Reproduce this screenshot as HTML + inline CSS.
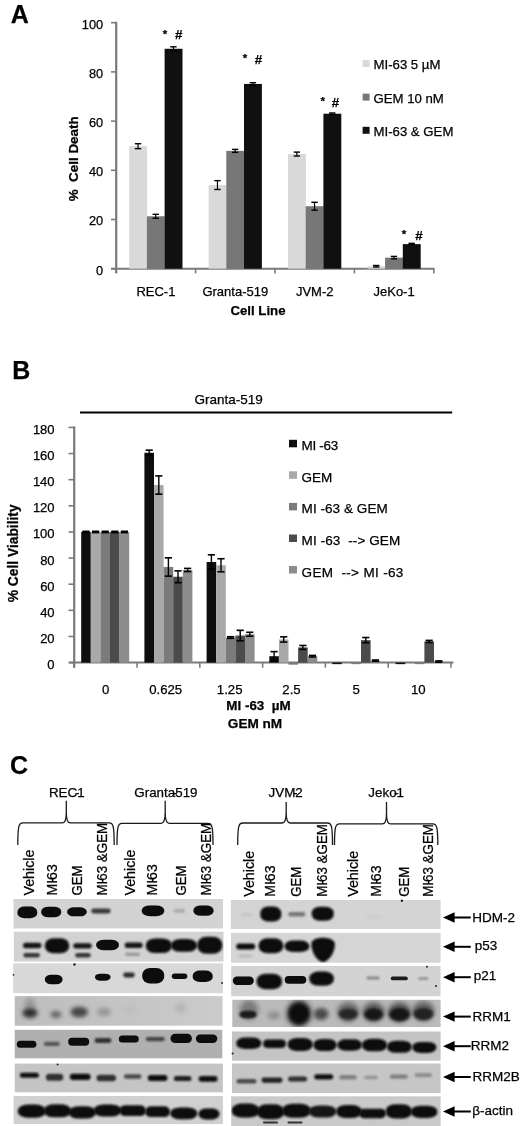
<!DOCTYPE html>
<html><head><meta charset="utf-8"><style>
html,body{margin:0;padding:0;background:#fff;}
svg{display:block;filter:grayscale(1);}
text{font-family:"Liberation Sans",sans-serif;stroke:#000;stroke-width:0.25px;}
</style></head><body>
<svg width="520" height="1126" viewBox="0 0 520 1126">
<text x="10.8" y="23.2" font-size="25" font-weight="700" >A</text>
<line x1="116.20" y1="21.70" x2="116.20" y2="273.00" stroke="#7a7a7a" stroke-width="2.2"/>
<line x1="111.00" y1="268.70" x2="116.20" y2="268.70" stroke="#7a7a7a" stroke-width="1.6"/>
<text x="103.2" y="274.59999999999997" font-size="12.8" text-anchor="end" >0</text>
<line x1="111.00" y1="219.50" x2="116.20" y2="219.50" stroke="#7a7a7a" stroke-width="1.6"/>
<text x="103.2" y="225.4" font-size="12.8" text-anchor="end" >20</text>
<line x1="111.00" y1="170.30" x2="116.20" y2="170.30" stroke="#7a7a7a" stroke-width="1.6"/>
<text x="103.2" y="176.2" font-size="12.8" text-anchor="end" >40</text>
<line x1="111.00" y1="121.10" x2="116.20" y2="121.10" stroke="#7a7a7a" stroke-width="1.6"/>
<text x="103.2" y="127.0" font-size="12.8" text-anchor="end" >60</text>
<line x1="111.00" y1="71.90" x2="116.20" y2="71.90" stroke="#7a7a7a" stroke-width="1.6"/>
<text x="103.2" y="77.79999999999998" font-size="12.8" text-anchor="end" >80</text>
<line x1="111.00" y1="22.70" x2="116.20" y2="22.70" stroke="#7a7a7a" stroke-width="1.6"/>
<text x="103.2" y="28.599999999999987" font-size="12.8" text-anchor="end" >100</text>
<line x1="111.00" y1="268.70" x2="434.50" y2="268.70" stroke="#7a7a7a" stroke-width="2"/>
<line x1="116.20" y1="268.70" x2="116.20" y2="273.50" stroke="#7a7a7a" stroke-width="1.6"/>
<line x1="195.60" y1="268.70" x2="195.60" y2="273.50" stroke="#7a7a7a" stroke-width="1.6"/>
<line x1="275.00" y1="268.70" x2="275.00" y2="273.50" stroke="#7a7a7a" stroke-width="1.6"/>
<line x1="354.40" y1="268.70" x2="354.40" y2="273.50" stroke="#7a7a7a" stroke-width="1.6"/>
<line x1="433.80" y1="268.70" x2="433.80" y2="273.50" stroke="#7a7a7a" stroke-width="1.6"/>
<rect x="129.20" y="146.19" width="17.90" height="122.51" fill="#d9d9d9"/>
<rect x="146.90" y="216.30" width="17.90" height="52.40" fill="#777777"/>
<rect x="164.60" y="48.78" width="17.90" height="219.92" fill="#101010"/>
<line x1="138.05" y1="143.73" x2="138.05" y2="148.65" stroke="#000" stroke-width="1.2"/>
<line x1="134.85" y1="143.73" x2="141.25" y2="143.73" stroke="#000" stroke-width="1.4"/>
<line x1="134.85" y1="148.65" x2="141.25" y2="148.65" stroke="#000" stroke-width="1.4"/>
<line x1="155.75" y1="214.33" x2="155.75" y2="218.27" stroke="#000" stroke-width="1.2"/>
<line x1="152.55" y1="214.33" x2="158.95" y2="214.33" stroke="#000" stroke-width="1.4"/>
<line x1="152.55" y1="218.27" x2="158.95" y2="218.27" stroke="#000" stroke-width="1.4"/>
<line x1="173.45" y1="46.81" x2="173.45" y2="50.74" stroke="#000" stroke-width="1.2"/>
<line x1="170.25" y1="46.81" x2="176.65" y2="46.81" stroke="#000" stroke-width="1.4"/>
<line x1="170.25" y1="50.74" x2="176.65" y2="50.74" stroke="#000" stroke-width="1.4"/>
<rect x="208.60" y="185.06" width="17.90" height="83.64" fill="#d9d9d9"/>
<rect x="226.30" y="150.87" width="17.90" height="117.83" fill="#777777"/>
<rect x="244.00" y="83.95" width="17.90" height="184.75" fill="#101010"/>
<line x1="217.45" y1="180.63" x2="217.45" y2="189.49" stroke="#000" stroke-width="1.2"/>
<line x1="214.25" y1="180.63" x2="220.65" y2="180.63" stroke="#000" stroke-width="1.4"/>
<line x1="214.25" y1="189.49" x2="220.65" y2="189.49" stroke="#000" stroke-width="1.4"/>
<line x1="235.15" y1="149.39" x2="235.15" y2="152.34" stroke="#000" stroke-width="1.2"/>
<line x1="231.95" y1="149.39" x2="238.35" y2="149.39" stroke="#000" stroke-width="1.4"/>
<line x1="231.95" y1="152.34" x2="238.35" y2="152.34" stroke="#000" stroke-width="1.4"/>
<line x1="252.85" y1="82.72" x2="252.85" y2="85.18" stroke="#000" stroke-width="1.2"/>
<line x1="249.65" y1="82.72" x2="256.05" y2="82.72" stroke="#000" stroke-width="1.4"/>
<line x1="249.65" y1="85.18" x2="256.05" y2="85.18" stroke="#000" stroke-width="1.4"/>
<rect x="288.00" y="154.06" width="17.90" height="114.64" fill="#d9d9d9"/>
<rect x="305.70" y="206.22" width="17.90" height="62.48" fill="#777777"/>
<rect x="323.40" y="113.72" width="17.90" height="154.98" fill="#101010"/>
<line x1="296.85" y1="152.10" x2="296.85" y2="156.03" stroke="#000" stroke-width="1.2"/>
<line x1="293.65" y1="152.10" x2="300.05" y2="152.10" stroke="#000" stroke-width="1.4"/>
<line x1="293.65" y1="156.03" x2="300.05" y2="156.03" stroke="#000" stroke-width="1.4"/>
<line x1="314.55" y1="202.28" x2="314.55" y2="210.15" stroke="#000" stroke-width="1.2"/>
<line x1="311.35" y1="202.28" x2="317.75" y2="202.28" stroke="#000" stroke-width="1.4"/>
<line x1="311.35" y1="210.15" x2="317.75" y2="210.15" stroke="#000" stroke-width="1.4"/>
<line x1="332.25" y1="112.98" x2="332.25" y2="114.46" stroke="#000" stroke-width="1.2"/>
<line x1="329.05" y1="112.98" x2="335.45" y2="112.98" stroke="#000" stroke-width="1.4"/>
<line x1="329.05" y1="114.46" x2="335.45" y2="114.46" stroke="#000" stroke-width="1.4"/>
<rect x="367.40" y="266.24" width="17.90" height="2.46" fill="#d9d9d9"/>
<rect x="385.10" y="257.63" width="17.90" height="11.07" fill="#777777"/>
<rect x="402.80" y="244.10" width="17.90" height="24.60" fill="#101010"/>
<line x1="376.25" y1="265.50" x2="376.25" y2="266.98" stroke="#000" stroke-width="1.2"/>
<line x1="373.05" y1="265.50" x2="379.45" y2="265.50" stroke="#000" stroke-width="1.4"/>
<line x1="373.05" y1="266.98" x2="379.45" y2="266.98" stroke="#000" stroke-width="1.4"/>
<line x1="393.95" y1="256.40" x2="393.95" y2="258.86" stroke="#000" stroke-width="1.2"/>
<line x1="390.75" y1="256.40" x2="397.15" y2="256.40" stroke="#000" stroke-width="1.4"/>
<line x1="390.75" y1="258.86" x2="397.15" y2="258.86" stroke="#000" stroke-width="1.4"/>
<line x1="411.65" y1="243.36" x2="411.65" y2="244.84" stroke="#000" stroke-width="1.2"/>
<line x1="408.45" y1="243.36" x2="414.85" y2="243.36" stroke="#000" stroke-width="1.4"/>
<line x1="408.45" y1="244.84" x2="414.85" y2="244.84" stroke="#000" stroke-width="1.4"/>
<text x="165" y="37.7" font-size="11.5" font-weight="700" text-anchor="middle" >*</text>
<text x="175.1" y="39.2" font-size="13.3" font-weight="700" >#</text>
<text x="245" y="62.0" font-size="11.5" font-weight="700" text-anchor="middle" >*</text>
<text x="254.7" y="63.5" font-size="13.3" font-weight="700" >#</text>
<text x="322.7" y="105.1" font-size="11.5" font-weight="700" text-anchor="middle" >*</text>
<text x="331.7" y="106.6" font-size="13.3" font-weight="700" >#</text>
<text x="404" y="238.2" font-size="11.5" font-weight="700" text-anchor="middle" >*</text>
<text x="415.2" y="239.7" font-size="13.3" font-weight="700" >#</text>
<rect x="362.60" y="60.00" width="7.00" height="7.00" fill="#d9d9d9"/>
<text x="373.5" y="69" font-size="13.2" >MI-63 5 µM</text>
<rect x="362.60" y="93.60" width="7.00" height="7.00" fill="#777777"/>
<text x="373.5" y="102.6" font-size="13.2" >GEM 10 nM</text>
<rect x="362.60" y="126.80" width="7.00" height="7.00" fill="#101010"/>
<text x="373.5" y="135.8" font-size="13.2" >MI-63 &amp; GEM</text>
<text x="155.9" y="296" font-size="13" text-anchor="middle" >REC-1</text>
<text x="235.3" y="296" font-size="13" text-anchor="middle" >Granta-519</text>
<text x="314.70000000000005" y="296" font-size="13" text-anchor="middle" >JVM-2</text>
<text x="394.1" y="296" font-size="13" text-anchor="middle" >JeKo-1</text>
<text x="258" y="314.8" font-size="13.2" font-weight="700" text-anchor="middle" >Cell Line</text>
<text x="78.5" y="158.8" font-size="13.6" font-weight="700" text-anchor="middle" textLength="85" lengthAdjust="spacingAndGlyphs" transform="rotate(-90 78.5 158.8)" xml:space="preserve">%  Cell Death</text>
<text x="12.3" y="379.2" font-size="25" font-weight="700" >B</text>
<text x="194.4" y="403.7" font-size="13.5" >Granta-519</text>
<line x1="80.00" y1="412.60" x2="452.20" y2="412.60" stroke="#000" stroke-width="2"/>
<line x1="74.20" y1="426.40" x2="74.20" y2="667.70" stroke="#7a7a7a" stroke-width="2.2"/>
<line x1="68.50" y1="662.60" x2="74.20" y2="662.60" stroke="#7a7a7a" stroke-width="1.6"/>
<text x="54.6" y="669.1" font-size="13" text-anchor="end" >0</text>
<line x1="68.50" y1="636.47" x2="74.20" y2="636.47" stroke="#7a7a7a" stroke-width="1.6"/>
<text x="54.6" y="642.97" font-size="13" text-anchor="end" >20</text>
<line x1="68.50" y1="610.34" x2="74.20" y2="610.34" stroke="#7a7a7a" stroke-width="1.6"/>
<text x="54.6" y="616.84" font-size="13" text-anchor="end" >40</text>
<line x1="68.50" y1="584.21" x2="74.20" y2="584.21" stroke="#7a7a7a" stroke-width="1.6"/>
<text x="54.6" y="590.71" font-size="13" text-anchor="end" >60</text>
<line x1="68.50" y1="558.08" x2="74.20" y2="558.08" stroke="#7a7a7a" stroke-width="1.6"/>
<text x="54.6" y="564.58" font-size="13" text-anchor="end" >80</text>
<line x1="68.50" y1="531.95" x2="74.20" y2="531.95" stroke="#7a7a7a" stroke-width="1.6"/>
<text x="54.6" y="538.45" font-size="13" text-anchor="end" >100</text>
<line x1="68.50" y1="505.82" x2="74.20" y2="505.82" stroke="#7a7a7a" stroke-width="1.6"/>
<text x="54.6" y="512.32" font-size="13" text-anchor="end" >120</text>
<line x1="68.50" y1="479.69" x2="74.20" y2="479.69" stroke="#7a7a7a" stroke-width="1.6"/>
<text x="54.6" y="486.19000000000005" font-size="13" text-anchor="end" >140</text>
<line x1="68.50" y1="453.56" x2="74.20" y2="453.56" stroke="#7a7a7a" stroke-width="1.6"/>
<text x="54.6" y="460.06000000000006" font-size="13" text-anchor="end" >160</text>
<line x1="68.50" y1="427.43" x2="74.20" y2="427.43" stroke="#7a7a7a" stroke-width="1.6"/>
<text x="54.6" y="433.93000000000006" font-size="13" text-anchor="end" >180</text>
<line x1="69.00" y1="662.60" x2="453.50" y2="662.60" stroke="#7a7a7a" stroke-width="2"/>
<line x1="74.20" y1="662.60" x2="74.20" y2="667.70" stroke="#7a7a7a" stroke-width="1.6"/>
<line x1="137.00" y1="662.60" x2="137.00" y2="667.70" stroke="#7a7a7a" stroke-width="1.6"/>
<line x1="199.80" y1="662.60" x2="199.80" y2="667.70" stroke="#7a7a7a" stroke-width="1.6"/>
<line x1="262.60" y1="662.60" x2="262.60" y2="667.70" stroke="#7a7a7a" stroke-width="1.6"/>
<line x1="325.40" y1="662.60" x2="325.40" y2="667.70" stroke="#7a7a7a" stroke-width="1.6"/>
<line x1="388.20" y1="662.60" x2="388.20" y2="667.70" stroke="#7a7a7a" stroke-width="1.6"/>
<line x1="451.00" y1="662.60" x2="451.00" y2="667.70" stroke="#7a7a7a" stroke-width="1.6"/>
<rect x="81.20" y="531.95" width="9.60" height="130.65" fill="#0e0e0e"/>
<rect x="90.80" y="531.95" width="9.60" height="130.65" fill="#a9a9a9"/>
<rect x="100.40" y="531.95" width="9.60" height="130.65" fill="#7b7b7b"/>
<rect x="110.00" y="531.95" width="9.60" height="130.65" fill="#4b4b4b"/>
<rect x="119.60" y="531.95" width="9.60" height="130.65" fill="#8d8d8d"/>
<line x1="86.00" y1="531.30" x2="86.00" y2="532.60" stroke="#000" stroke-width="1.4"/>
<line x1="82.40" y1="531.30" x2="89.60" y2="531.30" stroke="#000" stroke-width="1.6"/>
<line x1="82.40" y1="532.60" x2="89.60" y2="532.60" stroke="#000" stroke-width="1.6"/>
<line x1="95.60" y1="531.30" x2="95.60" y2="532.60" stroke="#000" stroke-width="1.4"/>
<line x1="92.00" y1="531.30" x2="99.20" y2="531.30" stroke="#000" stroke-width="1.6"/>
<line x1="92.00" y1="532.60" x2="99.20" y2="532.60" stroke="#000" stroke-width="1.6"/>
<line x1="105.20" y1="531.30" x2="105.20" y2="532.60" stroke="#000" stroke-width="1.4"/>
<line x1="101.60" y1="531.30" x2="108.80" y2="531.30" stroke="#000" stroke-width="1.6"/>
<line x1="101.60" y1="532.60" x2="108.80" y2="532.60" stroke="#000" stroke-width="1.6"/>
<line x1="114.80" y1="531.30" x2="114.80" y2="532.60" stroke="#000" stroke-width="1.4"/>
<line x1="111.20" y1="531.30" x2="118.40" y2="531.30" stroke="#000" stroke-width="1.6"/>
<line x1="111.20" y1="532.60" x2="118.40" y2="532.60" stroke="#000" stroke-width="1.6"/>
<line x1="124.40" y1="531.30" x2="124.40" y2="532.60" stroke="#000" stroke-width="1.4"/>
<line x1="120.80" y1="531.30" x2="128.00" y2="531.30" stroke="#000" stroke-width="1.6"/>
<line x1="120.80" y1="532.60" x2="128.00" y2="532.60" stroke="#000" stroke-width="1.6"/>
<rect x="144.40" y="452.78" width="9.60" height="209.82" fill="#0e0e0e"/>
<rect x="154.00" y="485.05" width="9.60" height="177.55" fill="#a9a9a9"/>
<rect x="163.60" y="566.96" width="9.60" height="95.64" fill="#7b7b7b"/>
<rect x="173.20" y="576.76" width="9.60" height="85.84" fill="#4b4b4b"/>
<rect x="182.80" y="569.97" width="9.60" height="92.63" fill="#8d8d8d"/>
<line x1="149.20" y1="450.16" x2="149.20" y2="455.39" stroke="#000" stroke-width="1.4"/>
<line x1="145.60" y1="450.16" x2="152.80" y2="450.16" stroke="#000" stroke-width="1.6"/>
<line x1="145.60" y1="455.39" x2="152.80" y2="455.39" stroke="#000" stroke-width="1.6"/>
<line x1="158.80" y1="475.90" x2="158.80" y2="494.19" stroke="#000" stroke-width="1.4"/>
<line x1="155.20" y1="475.90" x2="162.40" y2="475.90" stroke="#000" stroke-width="1.6"/>
<line x1="155.20" y1="494.19" x2="162.40" y2="494.19" stroke="#000" stroke-width="1.6"/>
<line x1="168.40" y1="557.82" x2="168.40" y2="576.11" stroke="#000" stroke-width="1.4"/>
<line x1="164.80" y1="557.82" x2="172.00" y2="557.82" stroke="#000" stroke-width="1.6"/>
<line x1="164.80" y1="576.11" x2="172.00" y2="576.11" stroke="#000" stroke-width="1.6"/>
<line x1="178.00" y1="570.88" x2="178.00" y2="582.64" stroke="#000" stroke-width="1.4"/>
<line x1="174.40" y1="570.88" x2="181.60" y2="570.88" stroke="#000" stroke-width="1.6"/>
<line x1="174.40" y1="582.64" x2="181.60" y2="582.64" stroke="#000" stroke-width="1.6"/>
<line x1="187.60" y1="568.40" x2="187.60" y2="571.54" stroke="#000" stroke-width="1.4"/>
<line x1="184.00" y1="568.40" x2="191.20" y2="568.40" stroke="#000" stroke-width="1.6"/>
<line x1="184.00" y1="571.54" x2="191.20" y2="571.54" stroke="#000" stroke-width="1.6"/>
<rect x="206.60" y="562.00" width="9.60" height="100.60" fill="#0e0e0e"/>
<rect x="216.20" y="565.27" width="9.60" height="97.33" fill="#a9a9a9"/>
<rect x="225.80" y="637.52" width="9.60" height="25.08" fill="#7b7b7b"/>
<rect x="235.40" y="635.56" width="9.60" height="27.04" fill="#4b4b4b"/>
<rect x="245.00" y="634.25" width="9.60" height="28.35" fill="#8d8d8d"/>
<line x1="211.40" y1="554.81" x2="211.40" y2="569.19" stroke="#000" stroke-width="1.4"/>
<line x1="207.80" y1="554.81" x2="215.00" y2="554.81" stroke="#000" stroke-width="1.6"/>
<line x1="207.80" y1="569.19" x2="215.00" y2="569.19" stroke="#000" stroke-width="1.6"/>
<line x1="221.00" y1="558.73" x2="221.00" y2="571.80" stroke="#000" stroke-width="1.4"/>
<line x1="217.40" y1="558.73" x2="224.60" y2="558.73" stroke="#000" stroke-width="1.6"/>
<line x1="217.40" y1="571.80" x2="224.60" y2="571.80" stroke="#000" stroke-width="1.6"/>
<line x1="230.60" y1="636.73" x2="230.60" y2="638.30" stroke="#000" stroke-width="1.4"/>
<line x1="227.00" y1="636.73" x2="234.20" y2="636.73" stroke="#000" stroke-width="1.6"/>
<line x1="227.00" y1="638.30" x2="234.20" y2="638.30" stroke="#000" stroke-width="1.6"/>
<line x1="240.20" y1="630.33" x2="240.20" y2="640.78" stroke="#000" stroke-width="1.4"/>
<line x1="236.60" y1="630.33" x2="243.80" y2="630.33" stroke="#000" stroke-width="1.6"/>
<line x1="236.60" y1="640.78" x2="243.80" y2="640.78" stroke="#000" stroke-width="1.6"/>
<line x1="249.80" y1="632.29" x2="249.80" y2="636.21" stroke="#000" stroke-width="1.4"/>
<line x1="246.20" y1="632.29" x2="253.40" y2="632.29" stroke="#000" stroke-width="1.6"/>
<line x1="246.20" y1="636.21" x2="253.40" y2="636.21" stroke="#000" stroke-width="1.6"/>
<rect x="269.30" y="656.20" width="9.60" height="6.40" fill="#0e0e0e"/>
<rect x="278.90" y="639.47" width="9.60" height="23.13" fill="#a9a9a9"/>
<rect x="288.50" y="662.60" width="9.60" height="2.07" fill="#7b7b7b"/>
<rect x="298.10" y="647.44" width="9.60" height="15.16" fill="#4b4b4b"/>
<rect x="307.70" y="656.20" width="9.60" height="6.40" fill="#8d8d8d"/>
<line x1="274.10" y1="651.63" x2="274.10" y2="660.77" stroke="#000" stroke-width="1.4"/>
<line x1="270.50" y1="651.63" x2="277.70" y2="651.63" stroke="#000" stroke-width="1.6"/>
<line x1="270.50" y1="660.77" x2="277.70" y2="660.77" stroke="#000" stroke-width="1.6"/>
<line x1="283.70" y1="636.86" x2="283.70" y2="642.09" stroke="#000" stroke-width="1.4"/>
<line x1="280.10" y1="636.86" x2="287.30" y2="636.86" stroke="#000" stroke-width="1.6"/>
<line x1="280.10" y1="642.09" x2="287.30" y2="642.09" stroke="#000" stroke-width="1.6"/>
<line x1="302.90" y1="645.48" x2="302.90" y2="649.40" stroke="#000" stroke-width="1.4"/>
<line x1="299.30" y1="645.48" x2="306.50" y2="645.48" stroke="#000" stroke-width="1.6"/>
<line x1="299.30" y1="649.40" x2="306.50" y2="649.40" stroke="#000" stroke-width="1.6"/>
<line x1="312.50" y1="655.41" x2="312.50" y2="656.98" stroke="#000" stroke-width="1.4"/>
<line x1="308.90" y1="655.41" x2="316.10" y2="655.41" stroke="#000" stroke-width="1.6"/>
<line x1="308.90" y1="656.98" x2="316.10" y2="656.98" stroke="#000" stroke-width="1.6"/>
<rect x="332.20" y="662.60" width="9.60" height="1.55" fill="#0e0e0e"/>
<rect x="341.80" y="662.60" width="9.60" height="0.00" fill="#a9a9a9"/>
<rect x="351.40" y="662.60" width="9.60" height="1.55" fill="#7b7b7b"/>
<rect x="361.00" y="640.13" width="9.60" height="22.47" fill="#4b4b4b"/>
<rect x="370.60" y="660.64" width="9.60" height="1.96" fill="#8d8d8d"/>
<line x1="365.80" y1="637.52" x2="365.80" y2="642.74" stroke="#000" stroke-width="1.4"/>
<line x1="362.20" y1="637.52" x2="369.40" y2="637.52" stroke="#000" stroke-width="1.6"/>
<line x1="362.20" y1="642.74" x2="369.40" y2="642.74" stroke="#000" stroke-width="1.6"/>
<line x1="375.40" y1="659.99" x2="375.40" y2="661.29" stroke="#000" stroke-width="1.4"/>
<line x1="371.80" y1="659.99" x2="379.00" y2="659.99" stroke="#000" stroke-width="1.6"/>
<line x1="371.80" y1="661.29" x2="379.00" y2="661.29" stroke="#000" stroke-width="1.6"/>
<rect x="395.60" y="662.60" width="9.60" height="1.55" fill="#0e0e0e"/>
<rect x="405.20" y="662.60" width="9.60" height="0.00" fill="#a9a9a9"/>
<rect x="414.80" y="662.60" width="9.60" height="1.55" fill="#7b7b7b"/>
<rect x="424.40" y="641.43" width="9.60" height="21.17" fill="#4b4b4b"/>
<rect x="434.00" y="661.55" width="9.60" height="1.05" fill="#8d8d8d"/>
<line x1="429.20" y1="640.39" x2="429.20" y2="642.48" stroke="#000" stroke-width="1.4"/>
<line x1="425.60" y1="640.39" x2="432.80" y2="640.39" stroke="#000" stroke-width="1.6"/>
<line x1="425.60" y1="642.48" x2="432.80" y2="642.48" stroke="#000" stroke-width="1.6"/>
<line x1="438.80" y1="660.90" x2="438.80" y2="662.21" stroke="#000" stroke-width="1.4"/>
<line x1="435.20" y1="660.90" x2="442.40" y2="660.90" stroke="#000" stroke-width="1.6"/>
<line x1="435.20" y1="662.21" x2="442.40" y2="662.21" stroke="#000" stroke-width="1.6"/>
<rect x="289.00" y="439.80" width="8.00" height="7.50" fill="#0e0e0e"/>
<text x="301.6" y="450.3" font-size="13.5" textLength="36.6" lengthAdjust="spacing" xml:space="preserve">MI -63</text>
<rect x="289.00" y="471.30" width="8.00" height="7.50" fill="#a9a9a9"/>
<text x="301.6" y="481.8" font-size="13.5" textLength="30.7" lengthAdjust="spacing" xml:space="preserve">GEM</text>
<rect x="289.00" y="502.90" width="8.00" height="7.50" fill="#7b7b7b"/>
<text x="301.6" y="513.4" font-size="13.5" textLength="86.1" lengthAdjust="spacing" xml:space="preserve">MI -63 &amp; GEM</text>
<rect x="289.00" y="534.50" width="8.00" height="7.50" fill="#4b4b4b"/>
<text x="301.6" y="545" font-size="13.5" textLength="98.6" lengthAdjust="spacing" xml:space="preserve">MI -63  --&gt; GEM</text>
<rect x="289.00" y="566.00" width="8.00" height="7.50" fill="#8d8d8d"/>
<text x="301.6" y="576.5" font-size="13.5" textLength="101.7" lengthAdjust="spacing" xml:space="preserve">GEM  --&gt; MI -63</text>
<text x="105.75" y="694" font-size="13.2" text-anchor="middle" >0</text>
<text x="165.7" y="694" font-size="13.2" text-anchor="middle" >0.625</text>
<text x="229.65" y="694" font-size="13.2" text-anchor="middle" >1.25</text>
<text x="291.5" y="694" font-size="13.2" text-anchor="middle" >2.5</text>
<text x="356.1" y="694" font-size="13.2" text-anchor="middle" >5</text>
<text x="418.3" y="694" font-size="13.2" text-anchor="middle" >10</text>
<text x="258.5" y="710.4" font-size="13.4" font-weight="700" text-anchor="middle" xml:space="preserve">MI -63  µM</text>
<text x="255" y="728" font-size="13.6" font-weight="700" text-anchor="middle" >GEM nM</text>
<text x="18" y="553.3" font-size="13.8" font-weight="700" text-anchor="middle" transform="rotate(-90 18 553.3)" >% Cell Viability</text>
<text x="10" y="774.2" font-size="25" font-weight="700" >C</text>
<text x="48.9" y="797" font-size="13.4">REC<tspan dx="-2.3">-</tspan><tspan dx="-2.2">1</tspan></text>
<text x="134.3" y="797" font-size="13.4">Granta<tspan dx="-2.3">-</tspan><tspan dx="-2.2">519</tspan></text>
<text x="268.6" y="797" font-size="13.4">JVM<tspan dx="-2.3">-</tspan><tspan dx="-2.2">2</tspan></text>
<text x="368.3" y="797" font-size="13.4">Jeko<tspan dx="-2.3">-</tspan><tspan dx="-2.2">1</tspan></text>
<path d="M17.8,845 C17.8,825.9 18.8,822.9 22.8,822.9 L62.3,822.9 C65.3,822.9 66.3,818.9 66.3,811.9 L66.3,800.8 M66.3,811.9 C66.3,818.9 67.3,822.9 70.3,822.9 L109.2,822.9 C113.2,822.9 114.2,825.9 114.2,845" fill="none" stroke="#1a1a1a" stroke-width="1.3"/>
<path d="M117.0,845 C117.0,826.3 118.0,823.3 122.0,823.3 L161.2,823.3 C164.2,823.3 165.2,819.3 165.2,812.3 L165.2,800.8 M165.2,812.3 C165.2,819.3 166.2,823.3 169.2,823.3 L208.0,823.3 C212.0,823.3 213.0,826.3 213.0,845" fill="none" stroke="#1a1a1a" stroke-width="1.3"/>
<path d="M237.7,845 C237.7,826.0 238.7,823 242.7,823 L282.2,823 C285.2,823 286.2,819.0 286.2,812.0 L286.2,802 M286.2,812.0 C286.2,819.0 287.2,823 290.2,823 L327.5,823 C331.5,823 332.5,826.0 332.5,845" fill="none" stroke="#1a1a1a" stroke-width="1.3"/>
<path d="M334.5,845 C334.5,826.9 335.5,823.9 339.5,823.9 L382.5,823.9 C385.5,823.9 386.5,819.9 386.5,812.9 L386.5,802 M386.5,812.9 C386.5,819.9 387.5,823.9 390.5,823.9 L432.8,823.9 C436.8,823.9 437.8,826.9 437.8,845" fill="none" stroke="#1a1a1a" stroke-width="1.3"/>
<text x="0" y="0" font-size="14.3" transform="translate(34.0 895.6) rotate(-90)" textLength="46.0" lengthAdjust="spacingAndGlyphs">Vehicle</text>
<text x="0" y="0" font-size="14.3" transform="translate(57.2 895.6) rotate(-90)" textLength="31.4" lengthAdjust="spacingAndGlyphs">MI<tspan dx="-2.4">-</tspan><tspan dx="-2.4">63</tspan></text>
<text x="0" y="0" font-size="14.3" transform="translate(81.5 895.6) rotate(-90)" textLength="30.2" lengthAdjust="spacingAndGlyphs">GEM</text>
<text x="0" y="0" font-size="14.3" transform="translate(106.5 895.6) rotate(-90)" textLength="72.8" lengthAdjust="spacingAndGlyphs">MI<tspan dx="-2.4">-</tspan><tspan dx="-2.4">63 &amp;GEM</tspan></text>
<text x="0" y="0" font-size="14.3" transform="translate(134.5 895.6) rotate(-90)" textLength="46.0" lengthAdjust="spacingAndGlyphs">Vehicle</text>
<text x="0" y="0" font-size="14.3" transform="translate(157.2 895.6) rotate(-90)" textLength="31.4" lengthAdjust="spacingAndGlyphs">MI<tspan dx="-2.4">-</tspan><tspan dx="-2.4">63</tspan></text>
<text x="0" y="0" font-size="14.3" transform="translate(185.6 895.6) rotate(-90)" textLength="30.2" lengthAdjust="spacingAndGlyphs">GEM</text>
<text x="0" y="0" font-size="14.3" transform="translate(211 895.6) rotate(-90)" textLength="72.8" lengthAdjust="spacingAndGlyphs">MI<tspan dx="-2.4">-</tspan><tspan dx="-2.4">63 &amp;GEM</tspan></text>
<text x="0" y="0" font-size="14.3" transform="translate(253.9 896.8) rotate(-90)" textLength="46.0" lengthAdjust="spacingAndGlyphs">Vehicle</text>
<text x="0" y="0" font-size="14.3" transform="translate(274.7 896.8) rotate(-90)" textLength="31.4" lengthAdjust="spacingAndGlyphs">MI<tspan dx="-2.4">-</tspan><tspan dx="-2.4">63</tspan></text>
<text x="0" y="0" font-size="14.3" transform="translate(301.2 896.8) rotate(-90)" textLength="30.2" lengthAdjust="spacingAndGlyphs">GEM</text>
<text x="0" y="0" font-size="14.3" transform="translate(326.6 896.8) rotate(-90)" textLength="72.8" lengthAdjust="spacingAndGlyphs">MI<tspan dx="-2.4">-</tspan><tspan dx="-2.4">63 &amp;GEM</tspan></text>
<text x="0" y="0" font-size="14.3" transform="translate(358.2 896.8) rotate(-90)" textLength="46.0" lengthAdjust="spacingAndGlyphs">Vehicle</text>
<text x="0" y="0" font-size="14.3" transform="translate(380.6 896.8) rotate(-90)" textLength="31.4" lengthAdjust="spacingAndGlyphs">MI<tspan dx="-2.4">-</tspan><tspan dx="-2.4">63</tspan></text>
<text x="0" y="0" font-size="14.3" transform="translate(409 896.8) rotate(-90)" textLength="30.2" lengthAdjust="spacingAndGlyphs">GEM</text>
<text x="0" y="0" font-size="14.3" transform="translate(433.1 896.8) rotate(-90)" textLength="72.8" lengthAdjust="spacingAndGlyphs">MI<tspan dx="-2.4">-</tspan><tspan dx="-2.4">63 &amp;GEM</tspan></text>
<defs><linearGradient id="gR1" x1="0" x2="1" y1="0" y2="0"><stop offset="0" stop-color="#bdbdbd"/><stop offset="0.5" stop-color="#c4c4c4"/><stop offset="1" stop-color="#cbcbcb"/></linearGradient></defs>
<rect x="13.5" y="899" width="209.5" height="29.5" fill="#d3d3d3"/>
<rect x="13.8" y="931.8" width="209.7" height="29.7" fill="#d2d2d2"/>
<rect x="13.2" y="963.3" width="209.8" height="29.9" fill="#d8d8d8"/>
<rect x="14.7" y="996.1" width="207.9" height="29.6" fill="url(#gR1)"/>
<rect x="14.7" y="1029.8" width="207.6" height="28.5" fill="#b0b0b0"/>
<rect x="14.7" y="1063.6" width="208.2" height="28.7" fill="#c5c5c5"/>
<rect x="13.6" y="1096" width="209.3" height="28.0" fill="#d0d0d0"/>
<rect x="230.8" y="900" width="209.8" height="29.0" fill="#d4d4d4"/>
<rect x="231" y="932.8" width="209.6" height="29.9" fill="#d5d5d5"/>
<rect x="231.2" y="966" width="209.4" height="30.2" fill="#d3d3d3"/>
<rect x="232.3" y="999.8" width="208.3" height="27.2" fill="#bababa"/>
<rect x="232" y="1031.5" width="208.6" height="29.2" fill="#c4c4c4"/>
<rect x="232" y="1063.5" width="208.6" height="29.5" fill="#c6c6c6"/>
<rect x="231.2" y="1096.3" width="209.4" height="29.7" fill="#c9c9c9"/>
<defs><filter id="f0" x="-50%" y="-80%" width="200%" height="260%"><feGaussianBlur stdDeviation="0.6"/></filter><filter id="f1" x="-50%" y="-80%" width="200%" height="260%"><feGaussianBlur stdDeviation="0.7"/></filter><filter id="f2" x="-50%" y="-80%" width="200%" height="260%"><feGaussianBlur stdDeviation="0.8"/></filter><filter id="f3" x="-50%" y="-80%" width="200%" height="260%"><feGaussianBlur stdDeviation="0.9"/></filter><filter id="f4" x="-50%" y="-80%" width="200%" height="260%"><feGaussianBlur stdDeviation="1"/></filter><filter id="f5" x="-50%" y="-80%" width="200%" height="260%"><feGaussianBlur stdDeviation="1.2"/></filter><filter id="f6" x="-50%" y="-80%" width="200%" height="260%"><feGaussianBlur stdDeviation="1.3"/></filter><filter id="f7" x="-50%" y="-80%" width="200%" height="260%"><feGaussianBlur stdDeviation="1.8"/></filter><filter id="f8" x="-50%" y="-80%" width="200%" height="260%"><feGaussianBlur stdDeviation="2"/></filter><filter id="f9" x="-50%" y="-80%" width="200%" height="260%"><feGaussianBlur stdDeviation="2.2"/></filter><filter id="f10" x="-50%" y="-80%" width="200%" height="260%"><feGaussianBlur stdDeviation="2.5"/></filter></defs>
<defs><clipPath id="cs0"><rect x="13.5" y="899" width="209.5" height="29.5"/></clipPath><clipPath id="cs1"><rect x="13.8" y="931.8" width="209.7" height="29.7"/></clipPath><clipPath id="cs2"><rect x="13.2" y="963.3" width="209.8" height="29.9"/></clipPath><clipPath id="cs3"><rect x="14.7" y="996.1" width="207.9" height="29.6"/></clipPath><clipPath id="cs4"><rect x="14.7" y="1029.8" width="207.6" height="28.5"/></clipPath><clipPath id="cs5"><rect x="14.7" y="1063.6" width="208.2" height="28.7"/></clipPath><clipPath id="cs6"><rect x="13.6" y="1096" width="209.3" height="28.0"/></clipPath><clipPath id="cs7"><rect x="230.8" y="900" width="209.8" height="29.0"/></clipPath><clipPath id="cs8"><rect x="231" y="932.8" width="209.6" height="29.9"/></clipPath><clipPath id="cs9"><rect x="231.2" y="966" width="209.4" height="30.2"/></clipPath><clipPath id="cs10"><rect x="232.3" y="999.8" width="208.3" height="27.2"/></clipPath><clipPath id="cs11"><rect x="232" y="1031.5" width="208.6" height="29.2"/></clipPath><clipPath id="cs12"><rect x="232" y="1063.5" width="208.6" height="29.5"/></clipPath><clipPath id="cs13"><rect x="231.2" y="1096.3" width="209.4" height="29.7"/></clipPath></defs>
<g clip-path="url(#cs0)"><rect x="17.5" y="906.6" width="19.7" height="11.7" rx="7.1" ry="5.1" fill="#0b0b0b" filter="url(#f1)"/><rect x="41.2" y="906.7" width="20.0" height="10.6" rx="7.2" ry="4.7" fill="#0b0b0b" filter="url(#f1)"/><rect x="67.2" y="907.3" width="19.5" height="9.0" rx="7.0" ry="4.0" fill="#0b0b0b" filter="url(#f1)"/><rect x="91.2" y="908.6" width="19.5" height="4.8" rx="2.4" fill="#3a3a3a" filter="url(#f2)"/><rect x="141.8" y="905.4" width="22.4" height="10.8" rx="8.1" ry="4.8" fill="#0b0b0b" filter="url(#f1)"/><rect x="173.6" y="909.1" width="11.5" height="3.7" rx="1.9" fill="#aaa" filter="url(#f4)"/><rect x="193.5" y="905.4" width="20.0" height="10.4" rx="7.2" ry="4.6" fill="#0b0b0b" filter="url(#f1)"/></g>
<g clip-path="url(#cs1)"><rect x="23.0" y="942.7" width="18.5" height="5.6" rx="2.8" fill="#141414" filter="url(#f2)"/><rect x="23.4" y="953.0" width="16.5" height="4.6" rx="2.3" fill="#363636" filter="url(#f2)"/><rect x="44.9" y="938.3" width="24.3" height="15.0" rx="8.7" ry="6.6" fill="#0b0b0b" filter="url(#f2)"/><rect x="73.2" y="943.2" width="18.5" height="5.2" rx="2.6" fill="#141414" filter="url(#f2)"/><rect x="75.2" y="953.0" width="15.5" height="4.6" rx="2.3" fill="#363636" filter="url(#f2)"/><rect x="96.2" y="939.7" width="22.7" height="10.6" rx="8.2" ry="4.7" fill="#0b0b0b" filter="url(#f1)"/><rect x="124.7" y="942.6" width="18.0" height="5.4" rx="2.7" fill="#141414" filter="url(#f2)"/><rect x="125.0" y="952.6" width="15.0" height="3.3" rx="1.6" fill="#999" filter="url(#f4)"/><rect x="145.8" y="938.5" width="26.0" height="14.5" rx="9.4" ry="6.4" fill="#0b0b0b" filter="url(#f2)"/><rect x="171.0" y="939.0" width="26.0" height="12.8" rx="9.4" ry="5.6" fill="#0b0b0b" filter="url(#f2)"/><rect x="197.3" y="936.7" width="25.0" height="17.0" rx="9.0" ry="7.5" fill="#0b0b0b" filter="url(#f2)"/></g>
<g clip-path="url(#cs2)"><rect x="44.9" y="974.8" width="17.6" height="9.5" rx="6.3" ry="4.2" fill="#0b0b0b" filter="url(#f1)"/><rect x="95.0" y="973.7" width="15.5" height="7.0" rx="5.6" ry="3.1" fill="#0b0b0b" filter="url(#f1)"/><rect x="123.2" y="972.6" width="11.5" height="4.8" rx="2.4" fill="#2a2a2a" filter="url(#f2)"/><rect x="142.2" y="968.0" width="22.0" height="15.5" rx="7.9" ry="6.8" fill="#0b0b0b" filter="url(#f1)"/><rect x="171.8" y="973.5" width="15.5" height="5.5" rx="2.8" fill="#111" filter="url(#f1)"/><rect x="192.7" y="970.5" width="20.0" height="11.5" rx="7.2" ry="5.1" fill="#0b0b0b" filter="url(#f1)"/></g>
<g clip-path="url(#cs3)"><ellipse cx="30" cy="1004" rx="5.5" ry="6.5" fill="#9a9a9a" filter="url(#f10)"/><ellipse cx="30" cy="1013" rx="7.5" ry="5.0" fill="#2e2e2e" filter="url(#f8)"/><ellipse cx="56" cy="1014.5" rx="5.5" ry="3.7" fill="#666" filter="url(#f8)"/><ellipse cx="79.3" cy="1012" rx="8.8" ry="5.2" fill="#444" filter="url(#f8)"/><ellipse cx="104" cy="1012" rx="7.0" ry="4.5" fill="#999" filter="url(#f9)"/><ellipse cx="130" cy="1010" rx="6.0" ry="4.0" fill="#bbb" filter="url(#f10)"/><ellipse cx="181" cy="1008" rx="6.0" ry="5.0" fill="#b5b5b5" filter="url(#f10)"/></g>
<g clip-path="url(#cs4)"><rect x="16.8" y="1040.8" width="19.6" height="7.0" rx="3.5" fill="#0b0b0b" filter="url(#f1)"/><rect x="43.8" y="1041.8" width="15.9" height="4.3" rx="2.1" fill="#555" filter="url(#f2)"/><rect x="68.2" y="1037.7" width="21.0" height="8.0" rx="4.0" fill="#0b0b0b" filter="url(#f1)"/><rect x="94.5" y="1038.1" width="16.9" height="4.9" rx="2.5" fill="#333" filter="url(#f2)"/><rect x="118.8" y="1035.4" width="20.0" height="7.0" rx="3.5" fill="#0b0b0b" filter="url(#f1)"/><rect x="145.8" y="1037.0" width="19.0" height="4.2" rx="2.1" fill="#444" filter="url(#f2)"/><rect x="170.5" y="1033.8" width="21.4" height="9.2" rx="4.6" fill="#0b0b0b" filter="url(#f1)"/><rect x="195.9" y="1034.6" width="21.4" height="8.3" rx="4.2" fill="#0b0b0b" filter="url(#f1)"/></g>
<g clip-path="url(#cs5)"><rect x="19.9" y="1072.8" width="19.0" height="5.0" rx="2.5" fill="#0b0b0b" filter="url(#f2)"/><rect x="45.8" y="1073.7" width="17.5" height="7.0" rx="3.5" fill="#333" filter="url(#f3)"/><rect x="69.7" y="1073.7" width="21.0" height="6.2" rx="3.1" fill="#111" filter="url(#f2)"/><rect x="96.5" y="1074.8" width="19.5" height="6.5" rx="3.2" fill="#2e2e2e" filter="url(#f3)"/><rect x="123.9" y="1074.2" width="17.5" height="4.6" rx="2.3" fill="#484848" filter="url(#f3)"/><rect x="147.7" y="1075.0" width="19.8" height="6.0" rx="3.0" fill="#111" filter="url(#f2)"/><rect x="173.9" y="1075.9" width="17.5" height="5.2" rx="2.6" fill="#1e1e1e" filter="url(#f2)"/><rect x="198.6" y="1075.9" width="19.0" height="5.8" rx="2.9" fill="#111" filter="url(#f2)"/></g>
<g clip-path="url(#cs6)"><rect x="17.8" y="1104.5" width="28.0" height="13.3" rx="10.1" ry="5.9" fill="#0b0b0b" filter="url(#f2)"/><rect x="43.9" y="1104.3" width="27.0" height="13.0" rx="9.7" ry="5.7" fill="#0b0b0b" filter="url(#f2)"/><rect x="68.5" y="1106.3" width="27.5" height="12.2" rx="9.9" ry="5.4" fill="#0b0b0b" filter="url(#f2)"/><rect x="93.8" y="1104.5" width="27.5" height="12.0" rx="9.9" ry="5.3" fill="#0b0b0b" filter="url(#f2)"/><rect x="119.4" y="1105.2" width="26.5" height="10.8" rx="5.4" fill="#0b0b0b" filter="url(#f2)"/><rect x="145.1" y="1106.3" width="25.0" height="10.8" rx="5.4" fill="#0b0b0b" filter="url(#f2)"/><rect x="170.3" y="1107.5" width="27.0" height="11.8" rx="9.7" ry="5.2" fill="#0b0b0b" filter="url(#f2)"/><rect x="198.5" y="1108.6" width="21.0" height="10.8" rx="7.6" ry="4.8" fill="#0b0b0b" filter="url(#f2)"/></g>
<g clip-path="url(#cs7)"><rect x="240.7" y="913.0" width="11.6" height="3.2" rx="1.6" fill="#c5c5c5" filter="url(#f4)"/><rect x="260.3" y="906.5" width="21.0" height="15.0" rx="7.6" ry="6.6" fill="#0b0b0b" filter="url(#f2)"/><rect x="288.3" y="912.0" width="17.0" height="4.6" rx="2.3" fill="#777" filter="url(#f2)"/><rect x="311.7" y="906.7" width="22.0" height="14.0" rx="7.9" ry="6.2" fill="#0b0b0b" filter="url(#f2)"/><rect x="365.6" y="915.5" width="16.0" height="3.0" rx="1.5" fill="#ccc" filter="url(#f5)"/></g>
<g clip-path="url(#cs8)"><rect x="236.2" y="943.6" width="19.0" height="5.8" rx="2.9" fill="#111" filter="url(#f2)"/><rect x="238.7" y="954.5" width="14.0" height="3.0" rx="1.5" fill="#bbb" filter="url(#f4)"/><rect x="258.6" y="938.3" width="24.7" height="15.0" rx="8.9" ry="6.6" fill="#0b0b0b" filter="url(#f2)"/><rect x="284.6" y="940.5" width="24.7" height="11.6" rx="8.9" ry="5.1" fill="#0b0b0b" filter="url(#f2)"/><path d="M311.3,944 C311,935.8 334.7,935.8 334.9,944 C335,952 329.5,961 323,962.3 C316.5,961 311.5,952 311.3,944 Z" fill="#0b0b0b" filter="url(#f2)"/></g>
<g clip-path="url(#cs9)"><rect x="232.8" y="976.5" width="21.0" height="8.5" rx="4.2" fill="#0b0b0b" filter="url(#f1)"/><rect x="256.6" y="973.8" width="25.4" height="15.4" rx="9.1" ry="6.8" fill="#0b0b0b" filter="url(#f2)"/><rect x="284.7" y="975.9" width="21.6" height="7.8" rx="3.9" fill="#0b0b0b" filter="url(#f1)"/><rect x="309.4" y="971.6" width="24.4" height="14.2" rx="8.8" ry="6.2" fill="#0b0b0b" filter="url(#f2)"/><rect x="366.4" y="976.5" width="13.3" height="2.9" rx="1.4" fill="#888" filter="url(#f2)"/><rect x="390.8" y="976.6" width="17.0" height="3.7" rx="1.9" fill="#1a1a1a" filter="url(#f1)"/><rect x="418.0" y="977.0" width="10.4" height="3.0" rx="1.5" fill="#999" filter="url(#f2)"/></g>
<g clip-path="url(#cs10)"><ellipse cx="249" cy="1010" rx="9.5" ry="10.0" fill="#7a7a7a" filter="url(#f10)"/><rect x="239.5" y="1010.8" width="17.0" height="7.5" rx="6.1" ry="3.3" fill="#1a1a1a" filter="url(#f6)"/><ellipse cx="274" cy="1015.5" rx="6.5" ry="4.0" fill="#8e8e8e" filter="url(#f8)"/><ellipse cx="299" cy="1013.5" rx="12.5" ry="13.5" fill="#3a3a3a" filter="url(#f10)"/><ellipse cx="299" cy="1013.5" rx="10.0" ry="10.0" fill="#0e0e0e" filter="url(#f7)"/><ellipse cx="321" cy="1014" rx="7.5" ry="6.0" fill="#4a4a4a" filter="url(#f8)"/><ellipse cx="348.2" cy="1012" rx="11.0" ry="10.0" fill="#6a6a6a" filter="url(#f10)"/><ellipse cx="373.6" cy="1012" rx="11.0" ry="10.0" fill="#606060" filter="url(#f10)"/><ellipse cx="399.5" cy="1012" rx="11.5" ry="10.0" fill="#5a5a5a" filter="url(#f10)"/><ellipse cx="423.4" cy="1011" rx="11.0" ry="10.0" fill="#666" filter="url(#f10)"/><ellipse cx="348.2" cy="1014" rx="9.5" ry="5.5" fill="#262626" filter="url(#f7)"/><ellipse cx="373.6" cy="1014.3" rx="9.5" ry="6.2" fill="#181818" filter="url(#f7)"/><ellipse cx="399.5" cy="1014.5" rx="10.5" ry="6.8" fill="#141414" filter="url(#f7)"/><ellipse cx="423.4" cy="1014" rx="10.0" ry="6.2" fill="#222" filter="url(#f7)"/></g>
<g clip-path="url(#cs11)"><rect x="236.3" y="1037.5" width="25.0" height="11.5" rx="9.0" ry="5.1" fill="#0b0b0b" filter="url(#f2)"/><rect x="263.0" y="1039.5" width="23.0" height="8.5" rx="4.2" fill="#0b0b0b" filter="url(#f2)"/><rect x="287.7" y="1038.0" width="25.0" height="13.0" rx="9.0" ry="5.7" fill="#0b0b0b" filter="url(#f2)"/><rect x="313.5" y="1039.1" width="23.0" height="11.8" rx="8.3" ry="5.2" fill="#0b0b0b" filter="url(#f2)"/><rect x="337.4" y="1039.2" width="24.5" height="11.5" rx="8.8" ry="5.1" fill="#0b0b0b" filter="url(#f2)"/><rect x="362.0" y="1038.8" width="25.0" height="12.5" rx="9.0" ry="5.5" fill="#0b0b0b" filter="url(#f2)"/><rect x="387.1" y="1040.8" width="24.5" height="12.0" rx="8.8" ry="5.3" fill="#0b0b0b" filter="url(#f2)"/><rect x="412.3" y="1041.9" width="24.0" height="11.0" rx="8.6" ry="4.8" fill="#0b0b0b" filter="url(#f2)"/></g>
<g clip-path="url(#cs12)"><rect x="236.5" y="1079.0" width="20.0" height="4.5" rx="2.2" fill="#4a4a4a" filter="url(#f3)"/><rect x="261.5" y="1077.4" width="21.0" height="5.4" rx="2.7" fill="#222" filter="url(#f2)"/><rect x="288.1" y="1076.4" width="19.0" height="5.0" rx="2.5" fill="#2e2e2e" filter="url(#f2)"/><rect x="314.2" y="1074.2" width="19.0" height="5.2" rx="2.6" fill="#111" filter="url(#f2)"/><rect x="339.2" y="1075.1" width="17.5" height="4.4" rx="2.2" fill="#808080" filter="url(#f3)"/><rect x="364.0" y="1075.7" width="14.0" height="3.6" rx="1.8" fill="#949494" filter="url(#f3)"/><rect x="389.8" y="1074.4" width="18.0" height="4.3" rx="2.1" fill="#808080" filter="url(#f3)"/><rect x="414.6" y="1072.9" width="17.5" height="4.4" rx="2.2" fill="#8e8e8e" filter="url(#f3)"/></g>
<g clip-path="url(#cs13)"><rect x="231.8" y="1103.6" width="27.5" height="14.0" rx="9.9" ry="6.2" fill="#0b0b0b" filter="url(#f2)"/><rect x="256.9" y="1104.3" width="27.5" height="15.0" rx="9.9" ry="6.6" fill="#0b0b0b" filter="url(#f2)"/><rect x="282.2" y="1103.8" width="28.5" height="14.0" rx="10.3" ry="6.2" fill="#0b0b0b" filter="url(#f2)"/><rect x="308.8" y="1105.5" width="27.5" height="12.0" rx="9.9" ry="5.3" fill="#151515" filter="url(#f2)"/><rect x="336.2" y="1105.1" width="25.5" height="12.8" rx="9.2" ry="5.6" fill="#0b0b0b" filter="url(#f2)"/><rect x="359.0" y="1108.7" width="27.0" height="9.5" rx="4.8" fill="#0b0b0b" filter="url(#f2)"/><rect x="385.8" y="1104.3" width="26.0" height="14.2" rx="9.4" ry="6.2" fill="#0b0b0b" filter="url(#f2)"/><rect x="410.8" y="1105.7" width="26.5" height="12.2" rx="9.5" ry="5.4" fill="#0b0b0b" filter="url(#f2)"/><rect x="263.0" y="1121.6" width="15.0" height="1.8" rx="0.9" fill="#333" filter="url(#f0)"/><rect x="287.5" y="1121.6" width="15.0" height="1.8" rx="0.9" fill="#333" filter="url(#f0)"/></g>
<circle cx="13.5" cy="974.8" r="0.9" fill="#222"/>
<circle cx="74.5" cy="964.5" r="1.2" fill="#222"/>
<circle cx="222" cy="983" r="0.9" fill="#222"/>
<circle cx="57.6" cy="1064.5" r="1" fill="#222"/>
<circle cx="232.6" cy="1053.6" r="1" fill="#222"/>
<circle cx="436" cy="986" r="1" fill="#222"/>
<circle cx="401.9" cy="900.8" r="1.2" fill="#222"/>
<circle cx="427" cy="966.8" r="1" fill="#222"/>
<path d="M443,917.5 L454.6,912.3 L454.6,922.7 Z" fill="#000"/>
<rect x="454" y="916.5" width="16.8" height="2" fill="#000"/>
<text x="472.3" y="921.6" font-size="13.5">HDM-2</text>
<path d="M443,946.8 L454.6,941.5999999999999 L454.6,952.0 Z" fill="#000"/>
<rect x="454" y="945.8" width="16.8" height="2" fill="#000"/>
<text x="474.8" y="950.2" font-size="13.5">p53</text>
<path d="M443,977.2 L454.6,972.0 L454.6,982.4000000000001 Z" fill="#000"/>
<rect x="454" y="976.2" width="16.8" height="2" fill="#000"/>
<text x="473.8" y="979.7" font-size="13.5">p21</text>
<path d="M443,1016.6 L454.6,1011.4 L454.6,1021.8000000000001 Z" fill="#000"/>
<rect x="454" y="1015.6" width="16.8" height="2" fill="#000"/>
<text x="472.6" y="1020.8" font-size="13.5">RRM1</text>
<path d="M443,1046.2 L454.6,1041.0 L454.6,1051.4 Z" fill="#000"/>
<rect x="454" y="1045.2" width="16.8" height="2" fill="#000"/>
<text x="470.8" y="1049.7" font-size="13.5">RRM2</text>
<path d="M443,1077 L454.6,1071.8 L454.6,1082.2 Z" fill="#000"/>
<rect x="454" y="1076.0" width="16.8" height="2" fill="#000"/>
<text x="472.6" y="1080.8" font-size="13.5">RRM2B</text>
<path d="M443,1111.5 L454.6,1106.3 L454.6,1116.7 Z" fill="#000"/>
<rect x="454" y="1110.5" width="16.8" height="2" fill="#000"/>
<text x="472.3" y="1115.4" font-size="13.5">β-actin</text>
</svg>
</body></html>
